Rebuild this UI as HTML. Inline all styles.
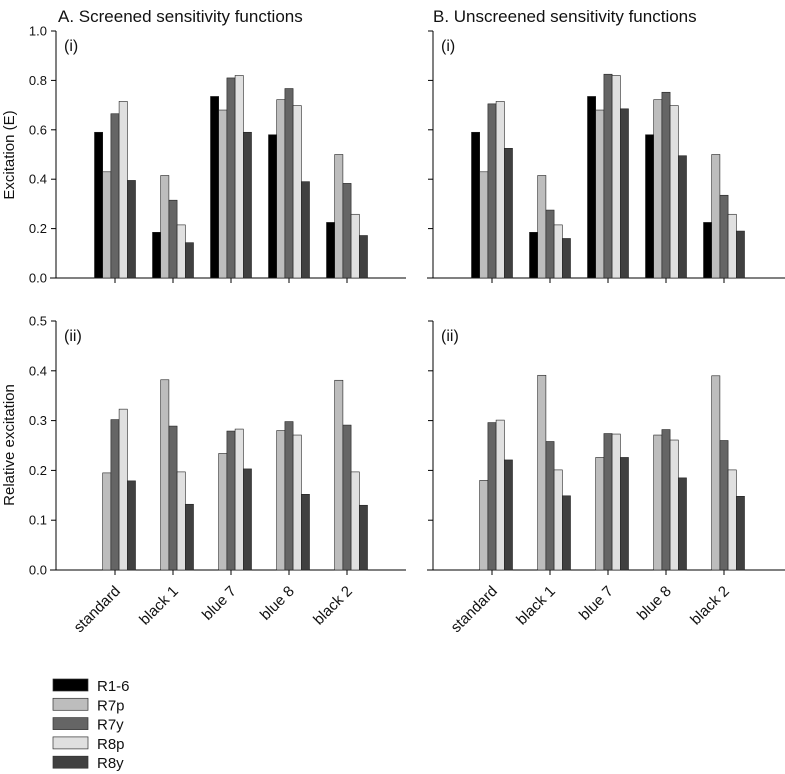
<!DOCTYPE html>
<html><head><meta charset="utf-8"><style>
body{margin:0;background:#fff;}
svg{display:block;font-family:"Liberation Sans",Arial,sans-serif;}
</style></head><body>
<svg id="chart" width="785" height="774"></svg>
<script>
const categories=["standard","black 1","blue 7","blue 8","black 2"];
const seriesNames=["R1-6","R7p","R7y","R8p","R8y"];
const seriesColors=["#000000","#bdbdbd","#656565","#e0e0e0","#404040"];
const topLeftValues=[[0.59,0.43,0.665,0.715,0.395],[0.185,0.415,0.315,0.215,0.143],[0.735,0.68,0.81,0.82,0.59],[0.58,0.722,0.767,0.698,0.39],[0.225,0.5,0.383,0.258,0.172]];
const topRightValues=[[0.59,0.43,0.705,0.715,0.525],[0.185,0.415,0.275,0.215,0.16],[0.735,0.68,0.825,0.82,0.685],[0.58,0.722,0.752,0.698,0.495],[0.225,0.5,0.335,0.258,0.19]];
const bottomLeftValues=[[0,0.195,0.302,0.323,0.179],[0,0.382,0.289,0.197,0.132],[0,0.234,0.279,0.283,0.203],[0,0.28,0.298,0.271,0.152],[0,0.381,0.291,0.197,0.13]];
const bottomRightValues=[[0,0.18,0.296,0.301,0.221],[0,0.391,0.258,0.201,0.149],[0,0.226,0.274,0.273,0.226],[0,0.271,0.282,0.261,0.185],[0,0.39,0.26,0.201,0.148]];
const topTicks=["0.0","0.2","0.4","0.6","0.8","1.0"];
const bottomTicks=["0.0","0.1","0.2","0.3","0.4","0.5"];

const svg=document.getElementById('chart');
const NS="http://www.w3.org/2000/svg";
function mk(tag,attrs,parent){const e=document.createElementNS(NS,tag);for(const k in attrs)e.setAttribute(k,attrs[k]);(parent||svg).appendChild(e);return e;}

function panel(name,ax,xStart,xEnd,y0,y1,ymax,ticks,values,showLabels,tag,showX){
  const g=mk('g',{});
  
  
  const yS=v=>y0-(v/ymax)*(y0-y1);
  const xS=i=>ax+59+i*58;
  const al=mk('line',{x1:ax,y1:y0,x2:ax,y2:y1,stroke:'#000','stroke-width':1},g);
  
  
  const xl=mk('line',{x1:xStart,y1:y0,x2:xEnd,y2:y0,stroke:'#000','stroke-width':1},g);
  
  
  ticks.forEach((t,i)=>{
    const v=parseFloat(t);const y=yS(v);
    mk('line',{x1:ax-5,y1:y,x2:ax,y2:y,stroke:'#000'},g);
    if(showLabels){const tx=mk('text',{x:ax-9,y:y+4.5,'font-size':13,'text-anchor':'end',fill:'#111'},g);tx.textContent=t;
      
      }
  });
  const lab=mk('text',{x:ax+8,y:y1+20,'font-size':16,fill:'#111'},g);lab.textContent=tag;
  
  
  const bw=8.2;
  categories.forEach((c,i)=>{
    const cx=xS(i);
    mk('line',{x1:cx,y1:y0,x2:cx,y2:y0+5,stroke:'#000'},g);
    values[i].forEach((v,j)=>{
      if(v<=0)return;
      const r=mk('rect',{x:cx-20.5+j*bw,y:yS(v),width:bw,height:y0-yS(v),fill:seriesColors[j],stroke:'#222','stroke-width':0.6},g);
      
      
    });
    if(showX){
      const t=mk('text',{x:cx+6,y:y0+22,'font-size':15,'text-anchor':'end',fill:'#111',transform:`rotate(-45 ${cx+6} ${y0+22})`},g);
      t.textContent=c;
      
      
    }
  });
}
panel('panel-a-i',56,50,406,278,31,1.0,topTicks,topLeftValues,true,'(i)',false);
panel('panel-b-i',433,427,785,278,31,1.0,topTicks,topRightValues,false,'(i)',false);
panel('panel-a-ii',56,50,406,570,321,0.5,bottomTicks,bottomLeftValues,true,'(ii)',true);
panel('panel-b-ii',433,427,785,570,321,0.5,bottomTicks,bottomRightValues,false,'(ii)',true);

let t=mk('text',{x:58,y:22,'font-size':17,fill:'#111'});t.textContent='A. Screened sensitivity functions';


t=mk('text',{x:433,y:22,'font-size':17,fill:'#111'});t.textContent='B. Unscreened sensitivity functions';


t=mk('text',{x:0,y:0,'font-size':15,'text-anchor':'middle',fill:'#111',transform:'translate(14 155) rotate(-90)'});t.textContent='Excitation (E)';


t=mk('text',{x:0,y:0,'font-size':15,'text-anchor':'middle',fill:'#111',transform:'translate(14 445) rotate(-90)'});t.textContent='Relative excitation';



seriesNames.forEach((s,j)=>{
  const y=679+j*19.3;
  const r=mk('rect',{x:53,y:y,width:35,height:12,fill:seriesColors[j],stroke:'#333','stroke-width':0.7});
  
  
  const tx=mk('text',{x:97,y:y+12,'font-size':15,fill:'#111'});tx.textContent=s;
  
  
});
</script>
</body></html>
